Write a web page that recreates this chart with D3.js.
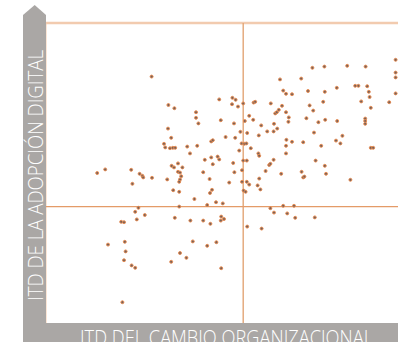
<!DOCTYPE html>
<html>
<head>
<meta charset="utf-8">
<script src="https://cdn.jsdelivr.net/npm/d3@7"></script>
<style>
  html, body { margin: 0; padding: 0; background: #fff; }
  svg { display: block; }
</style>
</head>
<body>
<svg id="chart" width="398" height="342"></svg>
<script>
// Axis titles
const xTitle = "ITD DEL CAMBIO ORGANIZACIONAL";
const yTitle = "ITD DE LA ADOPCIÓN DIGITAL";

// Reference lines (averages) on each index
const xMean = 49.3;
const yMean = 29.1;

// Index scores per organisation: organisational change (x) and digital adoption (y)
const changeIdx = [
  26.4, 30.6, 32.1, 37.5, 37.5, 38.1, 30.5, 31.3, 29.5, 29.8, 31.0, 31.7, 32.3, 35.3, 37.8,
  58.5, 59.3, 60.0, 61.5, 43.3, 46.6, 47.4, 46.5, 48.0, 49.3, 51.9, 52.3, 56.2, 59.0, 58.2,
  57.3, 57.7, 60.0, 60.7, 60.6, 50.8, 51.8, 43.7, 47.0, 49.7, 53.8, 57.0, 57.8, 56.9, 55.3,
  48.6, 50.3, 53.2, 44.9, 47.3, 41.3, 41.7, 60.1, 61.5, 60.0, 48.9, 49.6, 50.1, 51.2,
  66.6, 69.6, 75.3, 79.9, 87.4, 87.4, 63.8, 72.7, 77.3, 78.1, 80.3, 65.5, 69.7, 80.7, 80.9,
  87.4, 69.3, 78.8, 85.8, 65.9, 66.8, 81.2, 65.1, 68.1, 69.8, 72.8, 79.8, 79.8, 79.8, 67.0,
  74.1, 72.5, 73.6, 64.3, 68.8, 81.2, 81.8, 87.4,
  12.8, 14.8, 21.3, 23.4, 24.1, 24.3, 21.6, 26.5, 36.0, 31.4, 32.0, 33.0, 34.1, 33.0, 33.5,
  33.8, 33.5, 33.3, 30.3, 31.8, 33.3, 37.1, 23.1, 33.3, 22.3, 24.7, 22.7, 18.8, 19.5, 32.2,
  36.1,
  48.3, 53.1, 53.3, 60.0, 39.7, 41.3, 42.9, 43.3, 41.7, 46.8, 49.3, 50.2, 56.9, 55.8, 56.1,
  54.9, 58.8, 39.3, 47.1, 49.0, 40.9, 53.3, 45.8, 49.0, 50.2, 50.8, 52.9, 53.6, 41.5, 41.0,
  49.4, 49.9, 40.3, 42.5, 44.2, 59.3, 62.0, 56.1, 57.0, 60.3, 62.3, 39.3, 43.8, 44.5, 43.7,
  41.1, 50.3, 53.9,
  67.4, 69.7, 70.0, 63.9, 64.3, 64.6, 76.1, 67.2,
  15.5, 19.7, 19.9, 19.5, 21.4, 22.3, 19.1, 31.3, 33.5, 35.1, 36.7, 40.3, 42.6, 43.8
];
const adoptionIdx = [
  61.6, 54.5, 53.7, 52.7, 51.3, 49.9, 48.6, 46.3, 44.8, 43.9, 43.7, 43.8, 43.8, 44.1, 44.3,
  60.9, 58.1, 57.3, 57.2, 55.9, 56.3, 55.8, 54.7, 54.1, 54.9, 55.1, 55.3, 54.9, 54.3, 53.3,
  52.4, 52.7, 52.7, 51.4, 50.3, 51.8, 50.8, 50.7, 49.9, 50.5, 49.4, 49.8, 48.6, 47.9, 47.9,
  47.8, 47.5, 46.9, 46.5, 46.3, 45.4, 45.7, 45.8, 45.3, 44.3, 44.9, 44.8, 44.9, 43.7,
  63.8, 64.1, 64.3, 64.1, 62.6, 61.4, 61.1, 58.8, 59.3, 59.3, 59.2, 58.0, 57.8, 57.8, 56.5,
  57.4, 55.3, 55.4, 55.2, 54.4, 53.1, 53.8, 51.2, 50.2, 50.8, 50.5, 51.1, 50.5, 49.8, 47.6,
  46.8, 45.6, 44.9, 45.2, 44.3, 43.8, 43.8, 65.8,
  37.5, 38.4, 38.3, 37.3, 36.8, 36.4, 34.8, 36.3, 42.4, 39.3, 38.9, 39.9, 38.9, 37.8, 37.6,
  36.7, 35.9, 35.3, 35.9, 33.2, 32.8, 31.0, 28.8, 29.1, 27.8, 27.0, 25.9, 25.3, 25.2, 26.3,
  25.6,
  43.1, 42.4, 41.8, 42.4, 40.8, 41.4, 41.6, 40.9, 39.7, 40.0, 40.6, 40.6, 40.8, 39.5, 39.8,
  38.0, 37.3, 37.7, 37.7, 38.2, 36.0, 36.1, 35.1, 35.3, 35.3, 34.6, 34.4, 33.4, 33.3, 32.5,
  33.1, 32.8, 29.5, 30.2, 29.9, 29.3, 29.3, 28.7, 27.6, 27.4, 26.3, 25.6, 26.6, 26.0, 25.6,
  24.8, 24.1, 23.6,
  40.6, 39.3, 37.3, 37.8, 36.4, 36.6, 35.8, 26.4,
  19.6, 20.3, 17.9, 15.7, 14.4, 13.8, 5.2, 15.3, 17.5, 16.3, 20.4, 19.3, 20.2, 13.7
];

const svg = d3.select("#chart");
const W = 398, H = 342;
const band = { left: 23, right: 46, bottom: 323 };
const plot = { left: 46, right: 398, top: 23, bottom: 323 };

const x = d3.scaleLinear().domain([0, 88]).range([plot.left, plot.right]);
const y = d3.scaleLinear().domain([0, 75]).range([plot.bottom, plot.top]);

const grey = "#aaa7a5";

// Vertical axis band with arrowhead
svg.append("path")
  .attr("d", `M${band.left},15 L34.7,5 L${band.right},15 L${band.right},${H} L${band.left},${H} Z`)
  .attr("fill", grey);

// Horizontal axis band
svg.append("rect")
  .attr("x", band.left).attr("y", band.bottom)
  .attr("width", W - band.left).attr("height", H - band.bottom)
  .attr("fill", grey);

// Faint plot frame on the left
svg.append("line")
  .attr("x1", plot.left + 0.5).attr("x2", plot.left + 0.5)
  .attr("y1", plot.top).attr("y2", plot.bottom)
  .attr("stroke", "#fbe6d6").attr("stroke-width", 1);

// Top boundary at the scale maximum
svg.append("line")
  .attr("x1", plot.left).attr("x2", plot.right)
  .attr("y1", y(75)).attr("y2", y(75))
  .attr("stroke", "#f2cbaf").attr("stroke-width", 2.3);

// Mean reference lines
svg.append("line")
  .attr("x1", x(xMean)).attr("x2", x(xMean))
  .attr("y1", y(75)).attr("y2", plot.bottom)
  .attr("stroke", "#e3a577").attr("stroke-width", 1.4);
svg.append("line")
  .attr("x1", plot.left).attr("x2", plot.right)
  .attr("y1", y(yMean)).attr("y2", y(yMean))
  .attr("stroke", "#e49b68").attr("stroke-width", 1.3);

// Scatter points
const pts = changeIdx.map((v, i) => ({ cx: v, cy: adoptionIdx[i] }));
svg.append("g").selectAll("circle")
  .data(pts)
  .join("circle")
  .attr("cx", d => x(d.cx))
  .attr("cy", d => y(d.cy))
  .attr("r", 1.5)
  .attr("fill", "#76625a")
  .attr("stroke", "#ea8a4e")
  .attr("stroke-width", 0.9);

// Axis titles
const fontFamily = "'Open Sans', 'Noto Sans', sans-serif";
svg.append("text")
  .attr("x", 80).attr("y", 344.5)
  .attr("fill", "#fff")
  .attr("font-family", fontFamily)
  .attr("font-weight", 300)
  .attr("font-size", 19.5)
  .attr("textLength", 293)
  .attr("lengthAdjust", "spacingAndGlyphs")
  .text(xTitle);

svg.append("text")
  .attr("transform", "translate(43,301) rotate(-90)")
  .attr("fill", "#fff")
  .attr("font-family", fontFamily)
  .attr("font-weight", 300)
  .attr("font-size", 19.5)
  .attr("textLength", 251)
  .attr("lengthAdjust", "spacingAndGlyphs")
  .text(yTitle);
</script>
</body>
</html>
